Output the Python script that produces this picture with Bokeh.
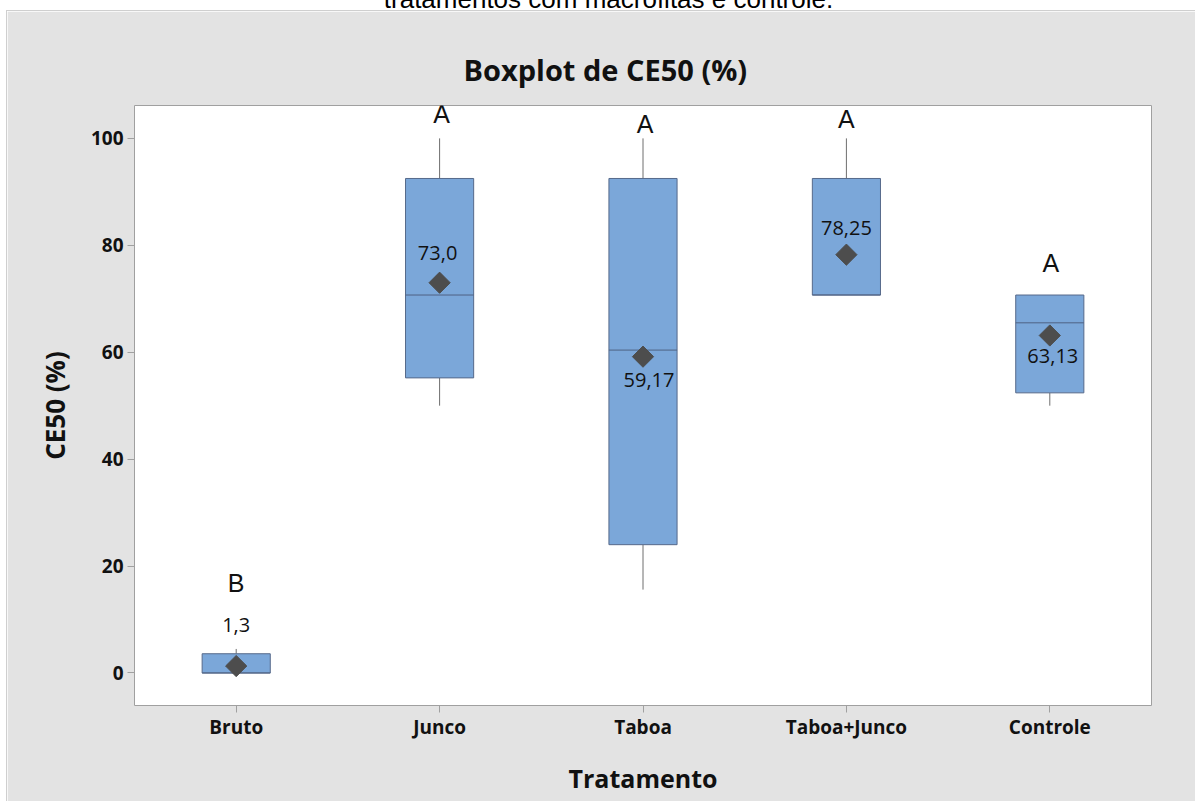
from bokeh.plotting import figure
from bokeh.models import ColumnDataSource, Div, Spacer, FixedTicker, Range1d, FactorRange
from bokeh.layouts import column, row
from bokeh.transform import dodge
from bokeh.core.properties import value
from bokeh.embed import file_html
from bokeh.resources import INLINE

# Summary statistics of CE50 (%) per treatment
categories = ["Bruto", "Junco", "Taboa", "Taboa+Junco", "Controle"]
whisker_low = [0.0, 50.0, 15.6, 70.7, 50.0]
q1 = [0.0, 55.2, 24.0, 70.7, 52.4]
median = [0.0, 70.7, 60.4, 70.7, 65.5]
q3 = [3.6, 92.5, 92.5, 92.5, 70.7]
whisker_high = [4.5, 100.0, 100.0, 100.0, 70.7]
means = [1.3, 73.0, 59.17, 78.25, 63.13]
mean_labels = ["1,3", "73,0", "59,17", "78,25", "63,13"]
groups = ["B", "A", "A", "A", "A"]
y_ticks = [0, 20, 40, 60, 80, 100]

# pixel offsets of the annotations around each box
mean_dx = [0, -2, 6, 0, 3]
mean_dy = [-41, -30, 23, -27, 21]
group_dx = [0, 2, 2, 0, 1]
group_dy = [-66, -24, -14, -19, -32]

FONT = "Open Sans"
BOX_W = 0.335

src = ColumnDataSource(dict(
    cat=categories, wlo=whisker_low, q1=q1, med=median, q3=q3, whi=whisker_high,
    mean=means, mlab=mean_labels, grp=groups,
    mdx=mean_dx, mdy=mean_dy, gdx=group_dx, gdy=group_dy,
))

p = figure(
    x_range=FactorRange(*categories),
    y_range=Range1d(-6.08, 106.15),
    width=1188, height=790,
    output_backend="svg", toolbar_location=None,
    min_border_left=127, min_border_right=44,
    min_border_top=94, min_border_bottom=96,
    background_fill_color="white",
    border_fill_color="#E3E3E3",
    outline_line_color="#A0A0A0",
    title="Boxplot de CE50 (%)",
)

p.title.align = "left"
p.title.offset = 329
p.title.vertical_align = "bottom"
p.title.standoff = 34
p.title.text_font = FONT
p.title.text_font_style = "bold"
p.title.text_font_size = "29px"
p.title.text_color = "#111111"

p.xgrid.visible = False
p.ygrid.visible = False

# whiskers
p.segment(x0="cat", y0="q3", x1="cat", y1="whi", source=src, line_color="#6E6E6E", line_width=1)
p.segment(x0="cat", y0="q1", x1="cat", y1="wlo", source=src, line_color="#6E6E6E", line_width=1)

# interquartile boxes
p.vbar(x="cat", bottom="q1", top="q3", width=BOX_W, source=src,
       fill_color="#7BA7D9", line_color="#56698A", line_width=1)

# median lines
p.segment(x0=dodge("cat", -BOX_W / 2, range=p.x_range), y0="med",
          x1=dodge("cat", BOX_W / 2, range=p.x_range), y1="med",
          source=src, line_color="#4F6283", line_width=1)

# mean symbols
p.scatter(x="cat", y="mean", source=src, marker="square", angle=0.785398, size=15,
          fill_color="#4D4D4D", line_color="#4D4D4D")

# mean value labels
p.text(x="cat", y="mean", text="mlab", source=src, x_offset="mdx", y_offset="mdy",
       text_align="center", text_baseline="middle", text_font=value(FONT),
       text_font_size="20px", text_color="#111111")

# grouping letters
p.text(x="cat", y="whi", text="grp", source=src, x_offset="gdx", y_offset="gdy",
       text_align="center", text_baseline="middle", text_font=value("Liberation Sans"),
       text_font_size="25px", text_color="#111111")

# axes
p.yaxis.ticker = FixedTicker(ticks=y_ticks)
for ax in (p.xaxis[0], p.yaxis[0]):
    ax.axis_line_color = None
    ax.major_tick_line_color = "#A0A0A0"
    ax.major_tick_out = 7
    ax.major_tick_in = 0
    ax.minor_tick_line_color = None
    ax.major_label_text_font = FONT
    ax.major_label_text_font_style = "bold"
    ax.major_label_text_font_size = "19px"
    ax.major_label_text_color = "#111111"
    ax.axis_label_text_font = FONT
    ax.axis_label_text_font_style = "bold"
    ax.axis_label_text_color = "#111111"
p.yaxis.axis_label_text_font_size = "26px"
p.xaxis.axis_label_text_font_size = "25px"
p.yaxis.major_label_standoff = 4
p.xaxis.major_label_standoff = 1

p.yaxis.axis_label = "CE50 (%)"
p.yaxis.axis_label_standoff = 15
p.xaxis.axis_label = "Tratamento"
p.xaxis.axis_label_standoff = 18

caption = Div(
    text=('<div style="position:relative;top:-14px;left:11px;width:1195px;text-align:center;'
          'font-family:\'Liberation Sans\',Arial,sans-serif;font-size:26px;line-height:26px;'
          'color:#000;white-space:nowrap;">tratamentos com macrófitas e controle.</div>'),
    width=1195, height=10, margin=0, styles={"overflow": "hidden"},
)
top_line = row(Spacer(width=6, height=1, margin=0),
               Div(text="", width=1189, height=1, margin=0,
                   styles={"background-color": "#CFCFCF"}),
               spacing=0)
body = row(Div(text="", width=6, height=790, margin=0),
           Div(text="", width=1, height=790, margin=0, styles={"background-color": "#CFCFCF"}),
           p, spacing=0)

layout = column(caption, top_line, body, spacing=0)

open("out.html", "w").write(file_html(layout, INLINE))
